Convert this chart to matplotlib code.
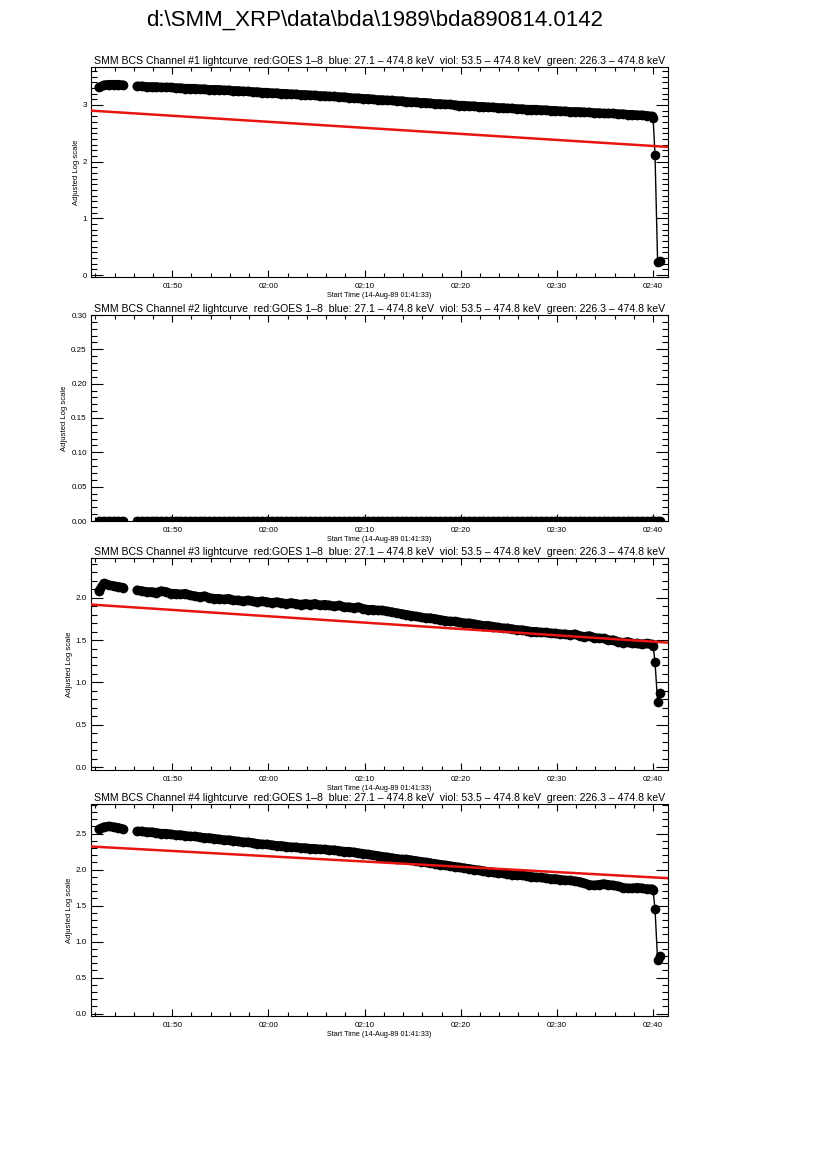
import numpy as np
import matplotlib
matplotlib.use('Agg')
import matplotlib.pyplot as plt
import matplotlib.dates as mdates
from matplotlib.ticker import MultipleLocator, FormatStrFormatter
from datetime import datetime, timedelta

plt.rcParams['font.family'] = ['Liberation Sans', 'DejaVu Sans']

start_time = datetime(1989, 8, 14, 1, 41, 33)
file_title = r'd:\SMM_XRP\data\bda\1989\bda890814.0142'
x_label = 'Start Time (14-Aug-89 01:41:33)'
y_label = 'Adjusted Log scale'
panel_title = ('SMM BCS Channel #{n} lightcurve  red:GOES 1\u20138  blue: 27.1 \u2013 474.8 keV  '
               'viol: 53.5 \u2013 474.8 keV  green: 226.3 \u2013 474.8 keV')

# sample times, minutes after start time (first block, gap, main block, final drop)
seg1_min = np.arange(0.85, 3.46, 0.5)
seg2_min = np.arange(4.8, 58.31, 0.5)
tail_min = [58.45, 58.65, 58.92, 59.15]

ch1_seg1 = [3.31, 3.35, 3.36, 3.36, 3.36, 3.35]
ch1_seg2 = [3.33, 3.33, 3.32, 3.32, 3.32, 3.31, 3.31, 3.31, 3.30, 3.30,
            3.29, 3.29, 3.29, 3.28, 3.28, 3.27, 3.27, 3.27, 3.26, 3.26,
            3.25, 3.25, 3.24, 3.24, 3.23, 3.23, 3.22, 3.22, 3.21, 3.21,
            3.20, 3.20, 3.19, 3.19, 3.18, 3.18, 3.17, 3.17, 3.16, 3.16,
            3.15, 3.15, 3.14, 3.14, 3.13, 3.12, 3.12, 3.11, 3.11, 3.10,
            3.09, 3.09, 3.08, 3.08, 3.07, 3.07, 3.06, 3.05, 3.05, 3.04,
            3.04, 3.03, 3.02, 3.02, 3.01, 3.01, 3.00, 2.99, 2.99, 2.98,
            2.98, 2.97, 2.97, 2.96, 2.96, 2.95, 2.95, 2.94, 2.94, 2.93,
            2.93, 2.92, 2.92, 2.92, 2.91, 2.91, 2.90, 2.90, 2.89, 2.89,
            2.88, 2.88, 2.88, 2.87, 2.87, 2.86, 2.86, 2.85, 2.85, 2.85,
            2.84, 2.84, 2.83, 2.83, 2.82, 2.82, 2.81, 2.80]
ch1_tail = [2.77, 2.12, 0.23, 0.25]

ch2_seg1 = [0.0] * 6
ch2_seg2 = [0.0] * 108
ch2_tail = [0.0, 0.0, 0.0, 0.0]

ch3_seg1 = [2.08, 2.17, 2.15, 2.14, 2.13, 2.12]
ch3_seg2 = [2.09, 2.08, 2.07, 2.07, 2.06, 2.08, 2.07, 2.05, 2.05, 2.04,
            2.05, 2.03, 2.02, 2.01, 2.02, 2.00, 1.99, 1.99, 1.98, 1.99,
            1.97, 1.97, 1.96, 1.97, 1.96, 1.95, 1.96, 1.95, 1.94, 1.95,
            1.94, 1.93, 1.94, 1.93, 1.92, 1.93, 1.92, 1.93, 1.91, 1.92,
            1.91, 1.90, 1.91, 1.89, 1.89, 1.88, 1.89, 1.87, 1.86, 1.86,
            1.85, 1.85, 1.84, 1.83, 1.82, 1.81, 1.80, 1.79, 1.78, 1.77,
            1.76, 1.76, 1.75, 1.74, 1.73, 1.72, 1.72, 1.71, 1.70, 1.70,
            1.69, 1.68, 1.67, 1.67, 1.66, 1.65, 1.64, 1.64, 1.63, 1.62,
            1.62, 1.61, 1.60, 1.60, 1.59, 1.59, 1.58, 1.58, 1.57, 1.57,
            1.56, 1.57, 1.55, 1.54, 1.55, 1.53, 1.52, 1.52, 1.50, 1.50,
            1.48, 1.47, 1.48, 1.46, 1.46, 1.45, 1.46, 1.45]
ch3_tail = [1.43, 1.24, 0.77, 0.87]

ch4_seg1 = [2.56, 2.59, 2.60, 2.59, 2.58, 2.56]
ch4_seg2 = [2.53, 2.53, 2.52, 2.52, 2.51, 2.50, 2.50, 2.49, 2.48, 2.48,
            2.47, 2.46, 2.46, 2.45, 2.44, 2.44, 2.43, 2.42, 2.41, 2.41,
            2.40, 2.39, 2.38, 2.38, 2.37, 2.36, 2.35, 2.35, 2.34, 2.33,
            2.33, 2.32, 2.31, 2.31, 2.30, 2.30, 2.29, 2.29, 2.28, 2.28,
            2.27, 2.27, 2.26, 2.25, 2.25, 2.24, 2.23, 2.22, 2.21, 2.20,
            2.19, 2.18, 2.17, 2.16, 2.15, 2.14, 2.14, 2.13, 2.12, 2.11,
            2.10, 2.09, 2.08, 2.07, 2.06, 2.05, 2.04, 2.03, 2.02, 2.01,
            2.00, 1.99, 1.98, 1.97, 1.96, 1.95, 1.95, 1.94, 1.93, 1.92,
            1.92, 1.91, 1.90, 1.89, 1.89, 1.88, 1.87, 1.87, 1.86, 1.85,
            1.85, 1.84, 1.83, 1.81, 1.79, 1.78, 1.79, 1.80, 1.79, 1.78,
            1.77, 1.75, 1.74, 1.74, 1.75, 1.74, 1.73, 1.73]
ch4_tail = [1.71, 1.45, 0.74, 0.80]

# GOES 1-8 (red) at the plot edges, minutes after start
goes_min = [0.0, 60.0]
goes_ch1 = [2.90, 2.26]
goes_ch2 = [np.nan, np.nan]
goes_ch3 = [1.92, 1.47]
goes_ch4 = [2.32, 1.88]

# axes placement in figure pixels (top, bottom) and y settings
panel_px = [(67, 277), (315, 521), (558, 770), (804, 1016)]
y_limits = [(-0.035, 3.67), (0.0, 0.30), (-0.035, 2.47), (-0.033, 2.91)]
y_major = [1.0, 0.05, 0.5, 0.5]
y_minor = [0.1, 0.01, 0.1, 0.1]
y_fmt = ['%d', '%.2f', '%.1f', '%.1f']

channels = [(ch1_seg1, ch1_seg2, ch1_tail, goes_ch1),
            (ch2_seg1, ch2_seg2, ch2_tail, goes_ch2),
            (ch3_seg1, ch3_seg2, ch3_tail, goes_ch3),
            (ch4_seg1, ch4_seg2, ch4_tail, goes_ch4)]


def to_time(minutes):
    return [start_time + timedelta(minutes=float(m)) for m in minutes]


W, H = 826, 1169
fig = plt.figure(figsize=(W / 100, H / 100), dpi=100)
fig.text(375 / W, 1 - 20 / H, file_title, ha='center', va='center', fontsize=16)

all_min = list(seg1_min) + [3.9] + list(seg2_min) + tail_min
times = to_time(all_min)
left, right = 91 / W, 668 / W
ms = 7.0

for k, (s1, s2, tail, goes) in enumerate(channels):
    top, bot = panel_px[k]
    ax = fig.add_axes([left, 1 - bot / H, right - left, (bot - top) / H])
    vals = list(s1) + [np.nan] + list(s2) + list(tail)
    # dense symbols merge into a band: fill it with a round-capped stroke
    for seg_t, seg_v in ((seg1_min, s1), (seg2_min, s2)):
        ax.plot(to_time(seg_t), seg_v, color='black', lw=ms * 0.95,
                solid_capstyle='round', solid_joinstyle='round', zorder=2)
    ax.plot(times, vals, color='black', lw=1.0, marker='o', ms=ms,
            markeredgewidth=0, zorder=2)
    ax.plot(to_time(goes_min), goes, color='#e8140f', lw=1.8, zorder=3)

    ax.set_xlim(start_time, start_time + timedelta(minutes=60))
    ax.set_ylim(*y_limits[k])
    ax.xaxis.set_major_locator(mdates.MinuteLocator(byminute=range(0, 60, 10)))
    ax.xaxis.set_minor_locator(mdates.MinuteLocator(byminute=range(0, 60, 2)))
    ax.xaxis.set_major_formatter(mdates.DateFormatter('%H:%M'))
    ax.yaxis.set_major_locator(MultipleLocator(y_major[k]))
    ax.yaxis.set_minor_locator(MultipleLocator(y_minor[k]))
    ax.yaxis.set_major_formatter(FormatStrFormatter(y_fmt[k]))

    ax.tick_params(which='both', direction='in', top=True, right=True,
                   width=0.8, labelsize=5.8)
    ax.tick_params(axis='x', which='major', length=5, pad=4.5)
    ax.tick_params(axis='x', which='minor', length=3)
    ax.tick_params(axis='y', which='major', length=8.5, pad=3)
    ax.tick_params(axis='y', which='minor', length=4.2)
    for sp in ax.spines.values():
        sp.set_linewidth(0.8)

    ax.set_title(panel_title.format(n=k + 1), fontsize=7.55, pad=2.5)
    ax.set_xlabel(x_label, fontsize=5.2, labelpad=1)
    ax.set_ylabel(y_label, fontsize=5.5, labelpad=2)

fig.savefig('out.png', dpi=100)
